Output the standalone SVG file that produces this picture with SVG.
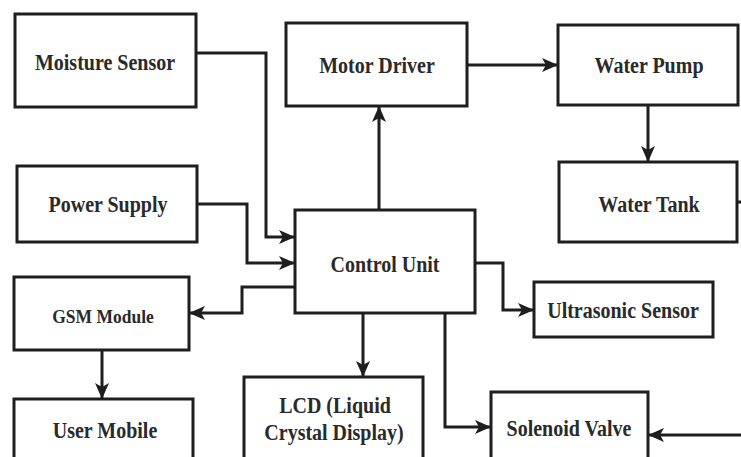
<svg xmlns="http://www.w3.org/2000/svg" width="741" height="457" viewBox="0 0 741 457">
<style>
.box{fill:#fff;stroke:#1e1e1e;stroke-width:3}
.lbl{font-family:"Liberation Serif","Times New Roman",serif;font-weight:bold;font-size:20px;fill:#2a2a2a;text-anchor:middle}
.con{fill:none;stroke:#1e1e1e;stroke-width:3}
.arr{marker-end:url(#ah)}
</style>
<defs>
<marker id="ah" markerUnits="userSpaceOnUse" markerWidth="16" markerHeight="16" refX="15" refY="8" orient="auto" viewBox="0 0 16 16">
<path d="M0,1 L16,8 L0,15 L4,8 z" fill="#1e1e1e"/>
</marker>
</defs>
<rect width="741" height="457" fill="#fff"/>
<g id="connectors">
<path class="con arr" d="M196,53 H266 V237 H294"/>
<path class="con arr" d="M197,204 H247 V263 H294"/>
<path class="con arr" d="M295,287 H242 V313 H190"/>
<path class="con arr" d="M102,350 V398"/>
<path class="con arr" d="M379,210 V107"/>
<path class="con arr" d="M467,65 H557"/>
<path class="con arr" d="M648,105 V161"/>
<path class="con arr" d="M475,263 H503 V310 H533"/>
<path class="con arr" d="M363,313 V376"/>
<path class="con arr" d="M445,313 V427 H490"/>
<path class="con arr" d="M741,435 H649"/>
<path class="con" d="M737,202 H741"/>
</g>
<g id="moisture"><rect class="box" x="15" y="14" width="181" height="93"/><text class="lbl" transform="translate(105,70) scale(1,1.12)">Moisture Sensor</text></g>
<g id="motor"><rect class="box" x="286" y="23" width="181" height="83"/><text class="lbl" transform="translate(377,73) scale(1,1.12)">Motor Driver</text></g>
<g id="pump"><rect class="box" x="558" y="25" width="180" height="80"/><text class="lbl" transform="translate(649,73) scale(1,1.12)">Water Pump</text></g>
<g id="tank"><rect class="box" x="559" y="162" width="178" height="80"/><text class="lbl" transform="translate(649,212) scale(1,1.12)">Water Tank</text></g>
<g id="power"><rect class="box" x="17" y="166" width="180" height="76"/><text class="lbl" transform="translate(108,212) scale(1,1.12)">Power Supply</text></g>
<g id="control"><rect class="box" x="295" y="210" width="180" height="103"/><text class="lbl" transform="translate(385,272) scale(1,1.12)">Control Unit</text></g>
<g id="ultrasonic"><rect class="box" x="534" y="282" width="179" height="55"/><text class="lbl" transform="translate(623,318) scale(1,1.12)">Ultrasonic Sensor</text></g>
<g id="gsm"><rect class="box" x="14" y="277" width="175" height="73"/><text class="lbl" style="font-size:17.5px" transform="translate(103,323) scale(1,1.12)">GSM Module</text></g>
<g id="user"><rect class="box" x="14" y="399" width="179" height="70"/><text class="lbl" transform="translate(105,438) scale(1,1.12)">User Mobile</text></g>
<g id="lcd"><rect class="box" x="244" y="377" width="179" height="92"/><text class="lbl" transform="translate(335,413) scale(1,1.12)">LCD (Liquid</text><text class="lbl" transform="translate(334,440) scale(1,1.12)">Crystal Display)</text></g>
<g id="solenoid"><rect class="box" x="491" y="392" width="157" height="77"/><text class="lbl" transform="translate(569,436) scale(1,1.12)">Solenoid Valve</text></g>
</svg>
